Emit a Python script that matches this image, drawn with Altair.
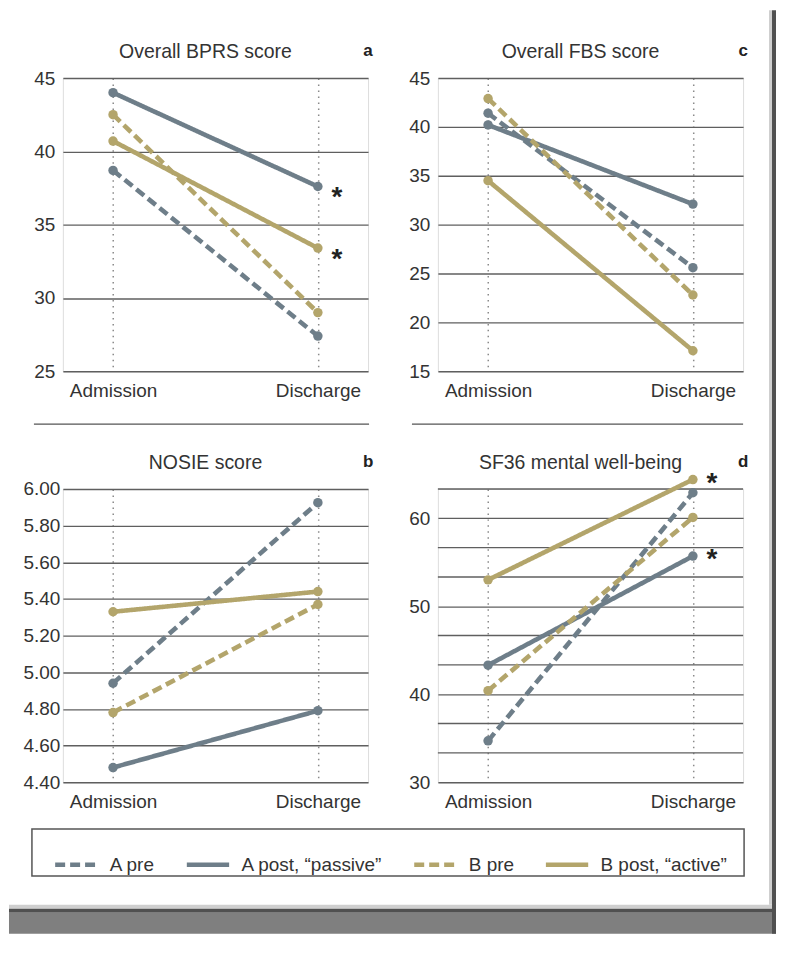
import altair as alt
import pandas as pd

FONT = "Liberation Sans, Arial, Helvetica, sans-serif"
GRAY = "#6e7e89"
GOLD = "#b3a56b"
TEXT = "#333333"

times = ["Admission", "Discharge"]
series = ["A pre", "A post, “passive”", "B pre", "B post, “active”"]
series_colors = [GRAY, GRAY, GOLD, GOLD]
series_dash = [[10, 5], [1, 0], [10, 5], [1, 0]]

# values in series order
bprs_admission = [38.7, 44.0, 42.5, 40.7]
bprs_discharge = [27.4, 37.6, 29.0, 33.4]
fbs_admission = [41.4, 40.2, 42.9, 34.5]
fbs_discharge = [25.6, 32.1, 22.8, 17.1]
nosie_admission = [4.94, 4.48, 4.78, 5.33]
nosie_discharge = [5.925, 4.79, 5.37, 5.44]
sf36_admission = [34.7, 43.3, 40.4, 53.0]
sf36_discharge = [62.9, 55.7, 60.1, 64.4]

bprs_ticks = [25, 30, 35, 40, 45]
fbs_ticks = [15, 20, 25, 30, 35, 40, 45]
nosie_ticks = [4.4, 4.6, 4.8, 5.0, 5.2, 5.4, 5.6, 5.8, 6.0]
sf36_ticks = [30, 40, 50, 60]
sf36_minor_grid = [33.333, 36.667, 43.333, 46.667, 53.333, 56.667, 63.333]

star_series = ["A post, “passive”", "B post, “active”"]

W, H = 306, 294


def panel(title, letter, adm, dis, ticks, domain, fmt, stars, star_dx, star_dy,
          label_pad, legend=None, minor=None, extra=None):
    rows = []
    for s, a, d in zip(series, adm, dis):
        rows.append({"series": s, "time": times[0], "value": a})
        rows.append({"series": s, "time": times[1], "value": d})
    df = pd.DataFrame(rows)

    x = alt.X("time:N", sort=times, title=None,
              scale=alt.Scale(type="point", padding=0.245),
              axis=alt.Axis(domain=False, ticks=False, labelAngle=0,
                            grid=True, gridDash=[1.5, 4.5], gridColor="#8a8a8a",
                            gridWidth=1.5, labelPadding=10, labelFontSize=19,
                            labelColor=TEXT, labelFont=FONT))
    y = alt.Y("value:Q", title=None,
              scale=alt.Scale(domain=domain, nice=False, zero=False),
              axis=alt.Axis(values=ticks, format=fmt, domain=False, ticks=False,
                            grid=True, gridColor="#5f5f5f", gridWidth=1.4,
                            labelPadding=label_pad, labelOverlap=False,
                            labelFontSize=19, labelColor=TEXT, labelFont=FONT))
    color = alt.Color("series:N", sort=series,
                      scale=alt.Scale(domain=series, range=series_colors),
                      legend=legend)
    dash = alt.StrokeDash("series:N", sort=series,
                          scale=alt.Scale(domain=series, range=series_dash),
                          legend=legend)

    layers = []
    if minor:
        layers.append(
            alt.Chart(pd.DataFrame({"value": minor})).mark_rule(
                color="#5f5f5f", strokeWidth=1.4
            ).encode(y=alt.Y("value:Q"), x=alt.value(0), x2=alt.value(W))
        )

    lines = alt.Chart(df).mark_line(
        strokeWidth=4.6, strokeCap="butt",
        point=alt.OverlayMarkDef(filled=True, size=90, opacity=1),
    ).encode(x=x, y=y, color=color, strokeDash=dash)
    layers.append(lines)

    if stars:
        star_df = df[(df["time"] == times[1]) & (df["series"].isin(stars))]
        layers.append(alt.Chart(star_df).mark_text(
            text="*", fontSize=28, fontWeight="bold", color="#222222",
            dx=star_dx, dy=star_dy, align="center", baseline="alphabetic", font=FONT,
        ).encode(x=alt.X("time:N", sort=times), y=alt.Y("value:Q")))

    layers.append(alt.Chart(pd.DataFrame({"t": [title]})).mark_text(
        fontSize=19.5, color=TEXT, align="center", baseline="alphabetic", font=FONT,
    ).encode(x=alt.value(W / 2 - 10), y=alt.value(-20), text="t:N"))

    layers.append(alt.Chart(pd.DataFrame({"letter": [letter]})).mark_text(
        fontSize=17, fontWeight="bold", color="#222222", align="center",
        baseline="alphabetic", font=FONT,
    ).encode(x=alt.value(W), y=alt.value(-22), text="letter:N"))

    if extra:
        layers.extend(extra)

    return alt.layer(*layers).properties(width=W, height=H)


one = pd.DataFrame({"k": [0]})


def rule(x1, x2, yv):
    return alt.Chart(one).mark_rule(color="#555555", strokeWidth=1.5).encode(
        x=alt.value(x1), x2=alt.value(x2), y=alt.value(yv))


def box(x1, x2, y1, y2, fill, stroke=None):
    kw = dict(fill=fill, strokeWidth=0)
    if stroke:
        kw = dict(fill=fill, fillOpacity=0, stroke=stroke, strokeWidth=1.5)
    return alt.Chart(one).mark_rect(**kw).encode(
        x=alt.value(x1), x2=alt.value(x2), y=alt.value(y1), y2=alt.value(y2))


legend = alt.Legend(
    orient="none", legendX=-10, legendY=353, direction="horizontal", columns=4,
    title=None, symbolType="stroke", symbolSize=1800, symbolStrokeWidth=4.5,
    labelFontSize=19, labelFont=FONT, labelColor=TEXT, columnPadding=22,
    labelOffset=10, padding=0,
)

BOTTOM = 446
RIGHT_B = 715   # right end of bottom strip, relative to panel b
b_extra = [
    rule(-29, 307, -65),
    box(-31, 683, 341, 388, "white", stroke="#555555"),
    box(-54, RIGHT_B, 417, 421, "#cfcfcf"),
    box(-54, RIGHT_B, 421, 425, "#505050"),
    box(-54, RIGHT_B, 425, BOTTOM, "#7f7f7f"),
]
d_extra = [
    rule(-26, 306, -65),
    box(332, 335, -480, 417, "#cfcfcf"),
    box(335, 339, -480, BOTTOM, "#505050"),
]

pa = panel("Overall BPRS score", "a", bprs_admission, bprs_discharge,
           bprs_ticks, [25, 45], "d", star_series, 19, 20, 8)
pc = panel("Overall FBS score", "c", fbs_admission, fbs_discharge,
           fbs_ticks, [15, 45], "d", [], 0, 0, 8)
pb = panel("NOSIE score", "b", nosie_admission, nosie_discharge,
           nosie_ticks, [4.4, 6.0], ".2f", [], 0, 0, 3, legend=legend, extra=b_extra)
pd_ = panel("SF36 mental well-being", "d", sf36_admission, sf36_discharge,
            sf36_ticks, [30, 63.333], "d", star_series, 19, 12, 8,
            minor=sf36_minor_grid, extra=d_extra)

chart = alt.concat(pa, pc, pb, pd_, columns=2, spacing={"row": 118, "column": 70},
                   bounds="flush").resolve_scale(
    x="independent", y="independent", color="independent", strokeDash="independent"
).resolve_legend(color="independent", strokeDash="independent").properties(
    padding=0, background="white"
).configure_view(strokeWidth=0).configure(font=FONT)

chart.save("out.html", embed_options={"renderer": "svg", "actions": False})
